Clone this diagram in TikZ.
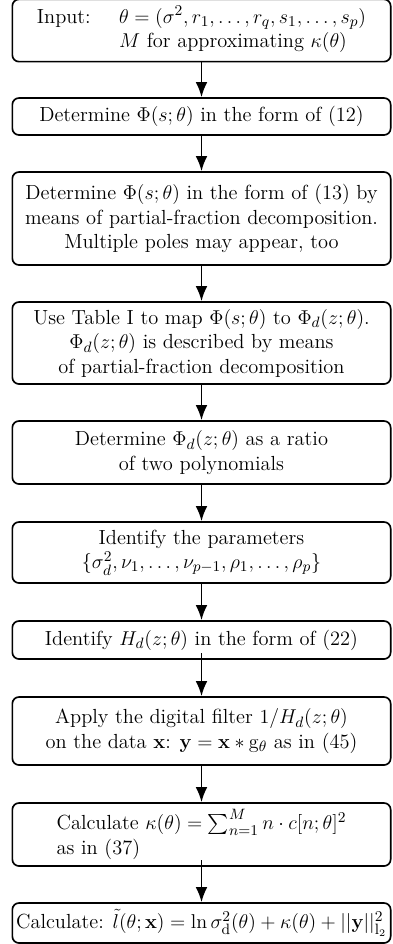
\documentclass[tikz,border=0pt,12pt]{standalone}
\usepackage{amsmath}
\usetikzlibrary{arrows.meta}
\begin{document}
\begin{tikzpicture}[x=0.6pt, y=-0.6pt, >={Latex[length=9pt,width=7pt]},
  stage/.style={draw, rectangle, rounded corners=4pt, line width=1pt, align=center, minimum width=227pt, inner xsep=3pt, font=\fontsize{12.25pt}{14.7pt}\selectfont},
  flow/.style={->, line width=1pt}]
\useasboundingbox (0,0) rectangle (393,944);
\node[stage, minimum height=35.4pt] (inp) at (201.5,30.5) {\begin{tabular}{@{}l@{\hspace{17pt}}l@{}}Input: & $\theta=(\sigma^2,r_1,\ldots,r_q,s_1,\ldots,s_p)$\\ & $M$ for approximating $\kappa(\theta)$\end{tabular}};
\node[stage, minimum height=22.2pt] (phis) at (201.5,116.5) {Determine $\Phi(s;\theta)$ in the form of (12)};
\node[stage, minimum height=55.8pt] (pfd) at (201.5,218.5) {Determine $\Phi(s;\theta)$ in the form of (13) by\\ means of partial-fraction decomposition.\\ Multiple poles may appear, too};
\node[stage, minimum height=49.2pt] (map) at (201.5,343) {Use Table I to map $\Phi(s;\theta)$ to $\Phi_d(z;\theta)$.\\ $\Phi_d(z;\theta)$ is described by means\\ of partial-fraction decomposition};
\node[stage, minimum height=37.8pt] (ratio) at (201.5,452.5) {Determine $\Phi_d(z;\theta)$ as a ratio\\ of two polynomials};
\node[stage, minimum height=36.6pt] (par) at (201.5,552.5) {Identify the parameters\\ $\{\sigma_d^2,\nu_1,\ldots,\nu_{p-1},\rho_1,\ldots,\rho_p\}$};
\node[stage, minimum height=22.8pt] (hd) at (201.5,640) {Identify $H_d(z;\theta)$ in the form of (22)};
\node[stage, minimum height=40.8pt] (filt) at (201.5,731) {Apply the digital filter $1/H_d(z;\theta)$\\ on the data $\mathbf{x}$: $\mathbf{y}=\mathbf{x}*\mathrm{g}_\theta$ as in (45)};
\node[stage, align=left, minimum height=37.8pt] (kap) at (201.5,834.5) {Calculate $\kappa(\theta)=\sum_{n=1}^{M} n\cdot c[n;\theta]^2$\\ as in (37)};
\node[stage, inner xsep=1pt, minimum height=24pt] (lik) at (201.5,923) {Calculate: $\tilde{l}(\theta;\mathbf{x})=\ln\sigma_{\mathrm{d}}^2(\theta)+\kappa(\theta)+||\mathbf{y}||_{\mathrm{l}_2}^2$};
\draw[flow] (inp) -- (phis);
\draw[flow] (phis) -- (pfd);
\draw[flow] (pfd) -- (map);
\draw[flow] (map) -- (ratio);
\draw[flow] (ratio) -- (par);
\draw[flow] (par) -- (hd);
\draw[flow, shorten <=-4pt] (hd) -- (filt);
\draw[flow] (filt) -- (kap);
\draw[flow, shorten <=-4pt] (kap) -- (lik);
\end{tikzpicture}
\end{document}
